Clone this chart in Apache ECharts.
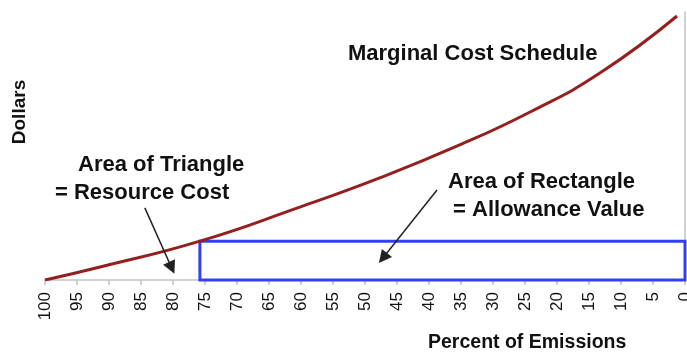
<!DOCTYPE html>
<html>
<head>
<meta charset="utf-8">
<script src="https://cdn.jsdelivr.net/npm/echarts@6/dist/echarts.min.js"></script>
<style>
  html, body { margin: 0; padding: 0; background: #ffffff; }
  #chart { width: 687px; height: 353px; }
</style>
</head>
<body>
<div id="chart"></div>
<script>
// Marginal cost schedule, sampled along the curve (percent of emissions -> dollars)
const emissionsPct = [100, 91.4, 75.8, 60.2, 47.7, 35.2, 24.2, 13.3, 1.25];
const marginalCost = [0, 4.85, 14.5, 27.2, 38.1, 50.4, 62.7, 77.2, 98.5];

// Allowance rectangle: from the cap level down to zero emissions, at the allowance price
const capPct = 75.8;
const allowancePrice = 14.5;

// Axis range and tick step (percent of emissions)
const pctMin = 0;
const pctMax = 100;
const pctStep = 5;

// Annotation arrows: [from, to] in (percent, dollars)
const triangleArrow = [[84.4, 26.9], [80.2, 4.5]];
const rectangleArrow = [[38.75, 33.6], [47.2, 8.2]];

// Text
const curveTitle = 'Marginal Cost Schedule';
const triangleNote = ['Area of Triangle', '= Resource Cost'];
const rectangleNote = ['Area of Rectangle', ' = Allowance Value'];
const xTitle = 'Percent of Emissions';
const yTitle = 'Dollars';

const FONT = '"Liberation Sans", Arial, Helvetica, sans-serif';
const boldText = (size) => 'bold ' + size + 'px ' + FONT;

const chart = echarts.init(document.getElementById('chart'), null, { renderer: 'canvas' });

const curveData = emissionsPct.map((p, i) => [p, marginalCost[i]]);

const option = {
  animation: false,
  backgroundColor: '#ffffff',
  grid: { left: 45, right: 2, top: 12, bottom: 73, containLabel: false, outerBoundsMode: 'none' },
  xAxis: {
    type: 'value',
    min: pctMin,
    max: pctMax,
    interval: pctStep,
    inverse: true,
    axisLine: { show: true, lineStyle: { color: '#c4c4c4', width: 1.5 } },
    axisTick: { show: true, length: 5, lineStyle: { color: '#c4c4c4', width: 1.5 } },
    axisLabel: {
      rotate: 90,
      margin: 12,
      color: '#111111',
      fontSize: 17,
      fontFamily: FONT,
      showMinLabel: true,
      showMaxLabel: true
    },
    splitLine: { show: false }
  },
  yAxis: {
    type: 'value',
    min: 0,
    max: 100,
    axisLine: { show: true, lineStyle: { color: '#c4c4c4', width: 1.5 } },
    axisTick: { show: true, length: 6, customValues: [0], lineStyle: { color: '#c4c4c4', width: 1.5 } },
    axisLabel: { show: false },
    splitLine: { show: false }
  },
  series: [
    {
      type: 'line',
      name: curveTitle,
      data: curveData,
      smooth: 0.5,
      showSymbol: false,
      symbol: 'none',
      lineStyle: { color: '#951f1f', width: 3 },
      silent: true,
      z: 3
    },
    {
      type: 'line',
      name: 'annotations',
      data: [],
      silent: true,
      markArea: {
        silent: true,
        itemStyle: { color: 'rgba(0,0,0,0)', borderColor: '#3240f5', borderWidth: 3 },
        label: { show: false },
        data: [[{ xAxis: capPct, yAxis: 0 }, { xAxis: pctMin, yAxis: allowancePrice }]]
      },
      markLine: {
        silent: true,
        symbol: ['none', 'triangle'],
        symbolSize: 13,
        label: { show: false },
        lineStyle: { color: '#222222', width: 1.5, type: 'solid' },
        emphasis: { disabled: true },
        data: [
          [{ coord: triangleArrow[0] }, { coord: triangleArrow[1] }],
          [{ coord: rectangleArrow[0] }, { coord: rectangleArrow[1] }]
        ]
      },
      z: 4
    }
  ],
  graphic: [
    { type: 'text', left: 348, top: 43, style: { text: curveTitle, font: boldText(22), fill: '#111111' } },
    { type: 'text', left: 78, top: 154, style: { text: triangleNote[0], font: boldText(22), fill: '#111111' } },
    { type: 'text', left: 55, top: 182, style: { text: triangleNote[1], font: boldText(22), fill: '#111111' } },
    { type: 'text', left: 448, top: 171, style: { text: rectangleNote[0], font: boldText(22), fill: '#111111' } },
    { type: 'text', left: 447, top: 199, style: { text: rectangleNote[1], font: boldText(22), fill: '#111111' } },
    { type: 'text', left: 428, top: 333, style: { text: xTitle, font: boldText(19.5), fill: '#111111' } },
    {
      type: 'text',
      x: 20, y: 112,
      rotation: Math.PI / 2,
      style: { text: yTitle, font: boldText(19), fill: '#111111', align: 'center', verticalAlign: 'middle' }
    }
  ]
};

chart.setOption(option);
</script>
</body>
</html>
